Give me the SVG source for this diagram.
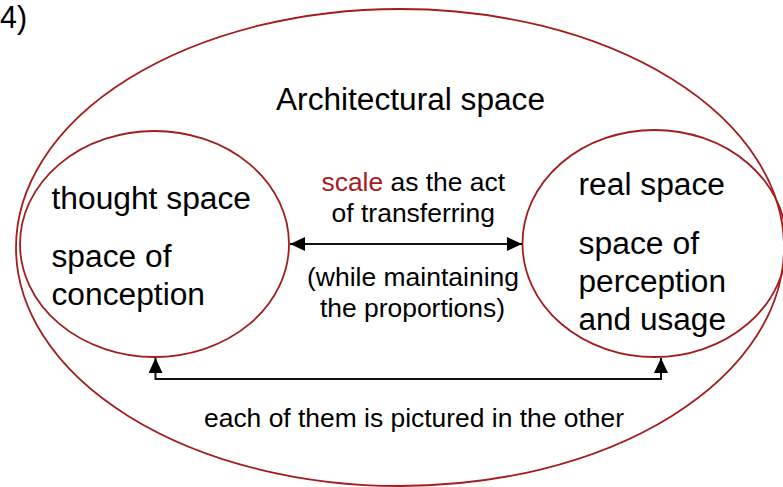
<svg xmlns="http://www.w3.org/2000/svg" width="783" height="487" viewBox="0 0 783 487">
<defs>
<style>
.ell{fill:none;stroke:#a31d1d;stroke-width:1.8}
.t{font-family:"Liberation Sans",Arial,sans-serif;fill:#000}
.big{font-size:31px}
.mid{font-size:25px}
.con{fill:none;stroke:#111;stroke-width:2}
</style>
<marker id="ah" viewBox="0 0 15 14" refX="15" refY="7" markerWidth="15" markerHeight="14" markerUnits="userSpaceOnUse" orient="auto-start-reverse">
<path d="M0,0 L15,7 L0,14 z" fill="#000"/>
</marker>
</defs>
<rect width="783" height="487" fill="#fff"/>
<text class="t big" x="0" y="28" textLength="27" lengthAdjust="spacingAndGlyphs">4)</text>
<g id="architectural-space">
<ellipse class="ell" cx="400" cy="247.5" rx="384" ry="238.5"/>
<text class="t big" x="276" y="109.5" textLength="269" lengthAdjust="spacingAndGlyphs">Architectural space</text>
</g>
<g id="thought-space">
<ellipse class="ell" cx="154.5" cy="244" rx="134.5" ry="113"/>
<text class="t big" x="51.5" y="208.5" textLength="199.5" lengthAdjust="spacingAndGlyphs">thought space</text>
<text class="t big" x="51.5" y="266.5" textLength="120" lengthAdjust="spacingAndGlyphs">space of</text>
<text class="t big" x="51.5" y="305" textLength="153.5" lengthAdjust="spacingAndGlyphs">conception</text>
</g>
<g id="real-space">
<ellipse class="ell" cx="654.5" cy="243.5" rx="132" ry="113.5"/>
<text class="t big" x="578.5" y="195" textLength="146.5" lengthAdjust="spacingAndGlyphs">real space</text>
<text class="t big" x="578.5" y="253.5" textLength="120.5" lengthAdjust="spacingAndGlyphs">space of</text>
<text class="t big" x="578.5" y="291.5" textLength="147.5" lengthAdjust="spacingAndGlyphs">perception</text>
<text class="t big" x="578.5" y="330" textLength="147.5" lengthAdjust="spacingAndGlyphs">and usage</text>
</g>
<g id="connectors">
<line class="con" x1="290" y1="244" x2="522" y2="244" marker-start="url(#ah)" marker-end="url(#ah)"/>
<path class="con" d="M155.5,358 V379 H661 V358" marker-start="url(#ah)" marker-end="url(#ah)"/>
<text class="t mid" x="321.5" y="190.5" textLength="183.5" lengthAdjust="spacingAndGlyphs"><tspan fill="#a31d1d">scale</tspan> as the act</text>
<text class="t mid" x="331.5" y="221.5" textLength="163.5" lengthAdjust="spacingAndGlyphs">of transferring</text>
<text class="t mid" x="307" y="286" textLength="212" lengthAdjust="spacingAndGlyphs">(while maintaining</text>
<text class="t mid" x="320" y="316.5" textLength="185" lengthAdjust="spacingAndGlyphs">the proportions)</text>
<text class="t mid" x="204" y="426.5" textLength="420" lengthAdjust="spacingAndGlyphs">each of them is pictured in the other</text>
</g>
</svg>
